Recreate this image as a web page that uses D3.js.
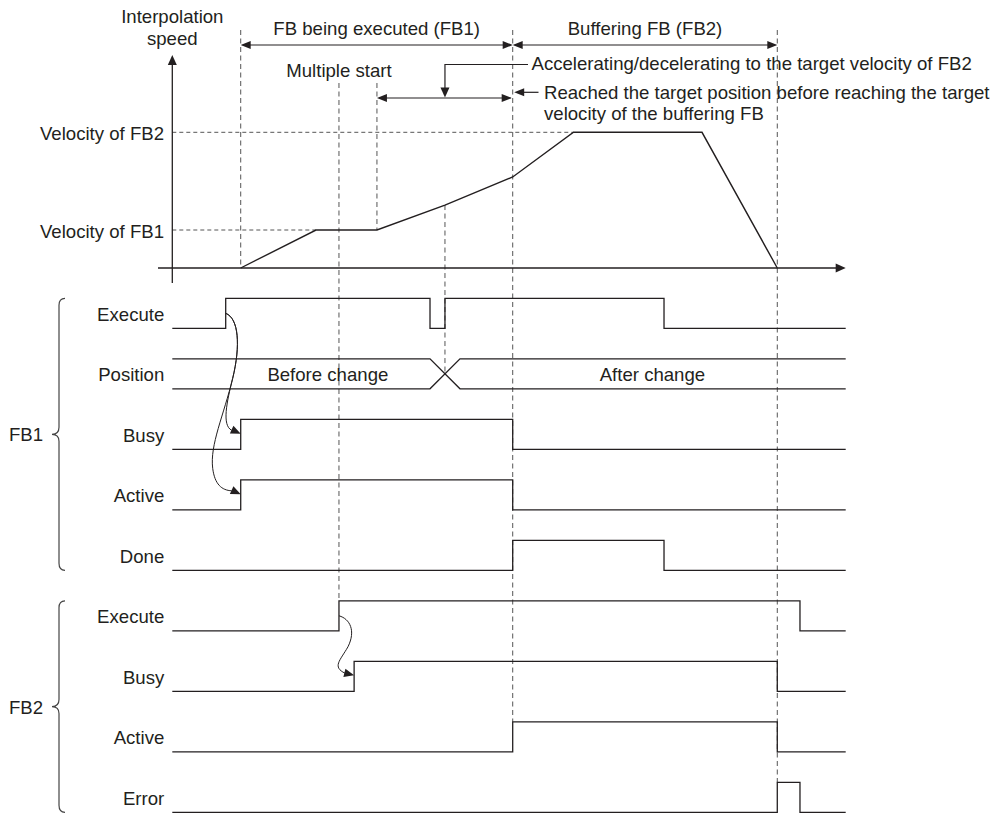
<!DOCTYPE html>
<html><head><meta charset="utf-8">
<script src="https://cdn.jsdelivr.net/npm/d3@7"></script>
<style>
body{margin:0;background:#fff;}
svg text{font-family:"Liberation Sans",Arial,Helvetica,sans-serif;font-size:18.6px;fill:#231f20;}
</style></head><body>
<svg id="chart" width="996" height="813"></svg>
<script>
// ---------------- DATA ----------------
// velocity profile (time in arbitrary units 0..100, velocity in % of FB2 target)
const velocityTimes  = [10.16, 21.34, 30.39, 40.49, 50.55, 59.58, 78.66, 89.84];
const velocityValues = [0, 28, 28, 46.4, 67.1, 100, 100, 0];
const velocityLevelNames  = ["Velocity of FB1", "Velocity of FB2"];
const velocityLevelValues = [28, 100];
const velocityLevelEnds   = [21.34, 59.58];

// phases shown above the chart
const phaseNames = ["FB being executed (FB1)", "Buffering FB (FB2)"];
const phaseStart = [10.16, 50.55];
const phaseEnd   = [50.55, 89.84];

// timing rows
const rowNames  = ["Execute", "Position", "Busy", "Active", "Done", "Execute", "Busy", "Active", "Error"];
const rowGroups = ["FB1", "FB1", "FB1", "FB1", "FB1", "FB2", "FB2", "FB2", "FB2"];
const groupNames = ["FB1", "FB2"];

// signal transitions: [time, level]
const fb1Execute = [[0, 0], [7.93, 1], [38.27, 0], [40.49, 1], [73.02, 0]];
const fb1Busy    = [[0, 0], [10.16, 1], [50.55, 0]];
const fb1Active  = [[0, 0], [10.16, 1], [50.55, 0]];
const fb1Done    = [[0, 0], [50.55, 1], [73.02, 0]];
const fb2Execute = [[0, 0], [24.75, 1], [93.21, 0]];
const fb2Busy    = [[0, 0], [27.0, 1], [89.84, 0]];
const fb2Active  = [[0, 0], [50.55, 1], [89.84, 0]];
const fb2Error   = [[0, 0], [89.84, 1], [93.21, 0]];
const signals = [fb1Execute, null, fb1Busy, fb1Active, fb1Done, fb2Execute, fb2Busy, fb2Active, fb2Error];

// position bus: change window and labels
const positionChange = [38.27, 42.72];
const positionLabels = ["Before change", "After change"];
const positionLabelTimes = [23.1, 71.3];

// event markers
const multipleStartTime = 24.75;
const accelStartTime = 30.39;
const accelMarkTime = 40.49;

// ---------------- SCALES ----------------
const svg = d3.select("#chart");
const ink = "#231f20";
const x = d3.scaleLinear().domain([0, 100]).range([172.3, 845.7]);
const v = d3.scaleLinear().domain([0, 100]).range([268, 132.3]);
const row = d3.scalePoint().domain(d3.range(rowNames.length)).range([328.3, 812.3]);
const lvl = d3.scaleLinear().domain([0, 1]).range([0, -30]);
const yLow = i => row(i), yHigh = i => row(i) + lvl(1), yMid = i => row(i) + lvl(0.5);

function arrowHead(g, tx, ty, angleDeg, len = 10, hw = 4) {
  const a = angleDeg * Math.PI / 180;
  const bx = tx - len * Math.cos(a), by = ty - len * Math.sin(a);
  const px = -Math.sin(a) * hw, py = Math.cos(a) * hw;
  g.append("path")
    .attr("d", `M${tx},${ty}L${bx + px},${by + py}L${bx - px},${by - py}Z`)
    .attr("fill", ink).attr("stroke", "none");
}

// ---------------- GUIDES ----------------
const gGuides = svg.append("g").attr("fill", "none").attr("stroke", "#555").attr("stroke-width", 1).attr("stroke-dasharray", "5,3.5");
const interpV = t => v(d3.scaleLinear().domain(velocityTimes.slice(3, 5)).range(velocityValues.slice(3, 5))(t));
const guides = [
  [phaseStart[0], 30, v(0)],
  [multipleStartTime, 83, yHigh(5)],
  [accelStartTime, 83, v(velocityLevelValues[0])],
  [accelMarkTime, interpV(accelMarkTime), yMid(1)],
  [phaseEnd[0], 30, yHigh(7)],
  [phaseEnd[1], 30, yHigh(8)]
];
guides.forEach(([t, y1, y2]) => gGuides.append("line").attr("x1", x(t)).attr("x2", x(t)).attr("y1", y1).attr("y2", y2));

// horizontal velocity guides
const gH = svg.append("g").attr("stroke", "#555").attr("stroke-dasharray", "4,3").attr("stroke-width", 1);
velocityLevelValues.forEach((val, i) => {
  gH.append("line").attr("x1", x(0)).attr("x2", x(velocityLevelEnds[i])).attr("y1", v(val)).attr("y2", v(val));
  svg.append("text").attr("x", 164).attr("y", v(val) + 7.5).attr("text-anchor", "end").text(velocityLevelNames[i]);
});

// ---------------- AXES ----------------
const gAx = svg.append("g").attr("stroke", ink).attr("stroke-width", 1.3);
gAx.append("line").attr("x1", x(0)).attr("x2", x(0)).attr("y1", 283).attr("y2", 62);
arrowHead(svg, x(0), 55, -90, 10, 4.5);
gAx.append("line").attr("x1", 158).attr("x2", x(100) - 6).attr("y1", v(0)).attr("y2", v(0));
arrowHead(svg, x(100), v(0), 0, 10, 4.5);
svg.append("text").attr("x", x(0)).attr("y", 22.5).attr("text-anchor", "middle").text("Interpolation");
svg.append("text").attr("x", x(0)).attr("y", 44.5).attr("text-anchor", "middle").text("speed");

// velocity profile
svg.append("path")
  .datum(velocityTimes.map((t, i) => [t, velocityValues[i]]))
  .attr("fill", "none").attr("stroke", ink).attr("stroke-width", 1.4)
  .attr("d", d3.line().x(d => x(d[0])).y(d => v(d[1])));

// ---------------- TOP ANNOTATIONS ----------------
const gA = svg.append("g").attr("stroke", ink).attr("stroke-width", 1.2).attr("fill", "none");
phaseNames.forEach((name, i) => {
  const x1 = x(phaseStart[i]), x2 = x(phaseEnd[i]);
  gA.append("line").attr("x1", x1 + 2).attr("x2", x2 - 2).attr("y1", 45).attr("y2", 45);
  arrowHead(svg, x1, 45, 180);
  arrowHead(svg, x2, 45, 0);
  svg.append("text").attr("x", (x1 + x2) / 2).attr("y", 35).attr("text-anchor", "middle").text(name);
});
svg.append("text").attr("x", x(multipleStartTime)).attr("y", 77.3).attr("text-anchor", "middle").text("Multiple start");

// accel double arrow
gA.append("line").attr("x1", x(accelStartTime) + 2).attr("x2", x(phaseEnd[0]) - 2).attr("y1", 98).attr("y2", 98);
arrowHead(svg, x(accelStartTime), 98, 180);
arrowHead(svg, x(phaseEnd[0]) - 1, 98, 0);
// callout to accel
gA.append("path").attr("d", `M${x(accelMarkTime)},89 V64.5 H528`);
arrowHead(svg, x(accelMarkTime), 97.5, 90, 10, 4.5);
svg.append("text").attr("x", 531.5).attr("y", 69.5).text("Accelerating/decelerating to the target velocity of FB2");
// callout to reached
gA.append("line").attr("x1", 538.5).attr("x2", x(phaseEnd[0]) + 9).attr("y1", 92.3).attr("y2", 92.3);
arrowHead(svg, x(phaseEnd[0]) + 1.5, 92.3, 180);
svg.append("text").attr("x", 544).attr("y", 98.5).text("Reached the target position before reaching the target");
svg.append("text").attr("x", 544).attr("y", 120).text("velocity of the buffering FB");

// ---------------- TIMING ROWS ----------------
const gS = svg.append("g").attr("fill", "none").attr("stroke", ink).attr("stroke-width", 1.3);
const line = d3.line().x(d => x(d[0])).y(d => d[1]);
rowNames.forEach((name, i) => {
  svg.append("text").attr("x", 164.3).attr("y", yMid(i) + 7.5).attr("text-anchor", "end").text(name);
  const s = signals[i];
  if (!s) return;
  const pts = [];
  s.forEach(([t, l], k) => {
    if (k > 0) pts.push([t, row(i) + lvl(s[k - 1][1])]);
    pts.push([t, row(i) + lvl(l)]);
  });
  pts.push([100, row(i) + lvl(s[s.length - 1][1])]);
  gS.append("path").attr("d", line(pts));
});
// position bus
const pi = 1;
gS.append("path").attr("d", line([[0, yHigh(pi)], [positionChange[0], yHigh(pi)], [positionChange[1], yLow(pi)], [100, yLow(pi)]]));
gS.append("path").attr("d", line([[0, yLow(pi)], [positionChange[0], yLow(pi)], [positionChange[1], yHigh(pi)], [100, yHigh(pi)]]));
positionLabels.forEach((lab, k) => {
  svg.append("text").attr("x", x(positionLabelTimes[k])).attr("y", yMid(pi) + 7.5).attr("text-anchor", "middle").text(lab);
});

// group braces
function brace(yTop, yBot, label) {
  const xm = 59, xt = 65, xp = 52, r = 7, ym = (yTop + yBot) / 2;
  svg.append("path").attr("fill", "none").attr("stroke", "#444").attr("stroke-width", 1.2)
    .attr("d", `M${xt},${yTop} Q${xm},${yTop} ${xm},${yTop + r} L${xm},${ym - r} Q${xm},${ym} ${xp},${ym} Q${xm},${ym} ${xm},${ym + r} L${xm},${yBot - r} Q${xm},${yBot} ${xt},${yBot}`);
  svg.append("text").attr("x", 43).attr("y", ym + 7).attr("text-anchor", "end").text(label);
}
groupNames.forEach(gname => {
  const idx = rowGroups.map((g, i) => g === gname ? i : -1).filter(i => i >= 0);
  brace(yHigh(idx[0]), yLow(idx[idx.length - 1]), gname);
});

// causal arrows
const gC = svg.append("g").attr("fill", "none").attr("stroke", ink).attr("stroke-width", 1);
const s0x = x(fb1Execute[1][0]), s0y = yMid(0);
gC.append("path").attr("d", `M${s0x},${s0y} C${s0x + 13},${s0y + 5} ${s0x + 15},${s0y + 32} ${s0x + 7},${s0y + 65} C${s0x + 1},${s0y + 89} ${s0x - 4},${s0y + 112} ${x(fb1Busy[1][0]) - 9},${yMid(2) - 4}`);
arrowHead(svg, x(fb1Busy[1][0]), yMid(2) - 0.5, 25, 10, 4.2);
gC.append("path").attr("d", `M${s0x},${s0y} C${s0x + 13},${s0y + 5} ${s0x + 15},${s0y + 32} ${s0x + 7},${s0y + 65} C${s0x - 2},${s0y + 102} ${s0x - 16},${s0y + 132} ${s0x - 13},${s0y + 155} C${s0x - 11},${s0y + 171} ${s0x - 4},${s0y + 177} ${x(fb1Active[1][0]) - 9},${yMid(3) - 4}`);
arrowHead(svg, x(fb1Active[1][0]), yMid(3) - 0.5, 25, 10, 4.2);
const s1x = x(fb2Execute[1][0]), s1y = yMid(5);
gC.append("path").attr("d", `M${s1x},${s1y} C${s1x + 11},${s1y + 3} ${s1x + 17},${s1y + 15} ${s1x + 9},${s1y + 31} C${s1x + 1},${s1y + 45} ${s1x - 7},${s1y + 51} ${x(fb2Busy[1][0]) - 9},${yMid(6) - 3}`);
arrowHead(svg, x(fb2Busy[1][0]), yMid(6) - 1, 14, 10, 4.2);
</script>
</body></html>
